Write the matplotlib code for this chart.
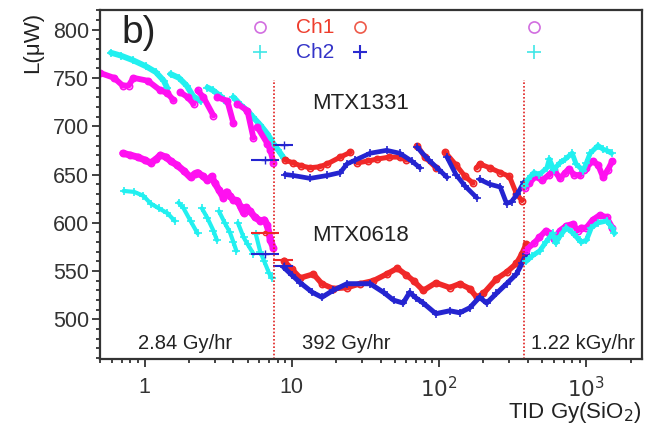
import numpy as np
import matplotlib
matplotlib.use("Agg")
import matplotlib.pyplot as plt
from matplotlib.ticker import FixedLocator, FixedFormatter, MultipleLocator, LogLocator, NullFormatter

nan = np.nan

# ---- data: dose (Gy) vs light power (uW) ----
# MTX1331, 2.84 Gy/hr
m1331_ch1_a_x = [0.50, 0.62, 0.71, 0.78, 0.84, 1.05, 1.28, 1.43, 1.57, nan, 1.75, 1.96, 2.15, nan,
                 2.29, 2.51, 2.93, nan, 3.12, 3.65, 4.01, nan, 4.27, 4.99, 5.48, nan, 5.83, 6.82, 7.15, 7.5]
m1331_ch1_a_y = [755, 750, 742, 742, 750, 747, 737, 734, 727, nan, 735, 730, 723, nan,
                 737, 730, 711, nan, 730, 726, 703, nan, 723, 716, 688, nan, 699, 682, 675, 662]
m1331_ch2_a_x = [0.59, 0.69, 0.84, 1.02, 1.19, 1.35, 1.43, nan, 1.50, 1.71, 1.93, 2.14, 2.40, nan,
                 2.67, 2.92, 3.28, 3.65, nan, 4.01, 4.48, 4.99, 5.48, 6.12, 6.82, 7.49, 8.1, 8.8]
m1331_ch2_a_y = [776, 773, 768, 762, 756, 747, 739, nan, 754, 750, 742, 731, 726, nan,
                 740, 737, 731, 724, nan, 730, 722, 716, 709, 701, 692, 682, 675, 667]

# MTX0618, 2.84 Gy/hr
m0618_ch1_a_x = [0.71, 0.8, 0.9, 1.0, 1.1, 1.2, 1.28, 1.4, 1.5, 1.65, 1.84, 2.05, 2.2, 2.29, 2.5, 2.67,
                 2.85, 3.0, 3.2, 3.43, 3.6, 3.8, 4.0, 4.27, 4.5, 4.7, 4.9, 5.2, 5.6, 6.1, 6.5, 6.8, 7.15, 7.5]
m0618_ch1_a_y = [672, 670, 668, 665, 662, 666, 670, 668, 664, 660, 654, 647, 651, 652, 648, 644,
                 648, 641, 634, 626, 632, 628, 624, 623, 616, 610, 616, 612, 606, 602, 603, 598, 582, 574]
m0618_ch2_a_x = [0.72, 0.85, 0.98, 1.1, 1.25, 1.43, 1.6, nan, 1.7, 1.84, 2.05, 2.29, nan,
                 2.45, 2.67, 2.93, 3.1, nan, 3.2, 3.5, 3.8, 4.01, 4.2, nan, 4.3, 4.7, 5.0, 5.48, nan,
                 5.7, 6.1, 6.5, 7.0, 7.3]
m0618_ch2_a_y = [633, 632, 628, 620, 615, 610, 602, nan, 621, 615, 602, 589, nan,
                 615, 605, 592, 582, nan, 612, 600, 590, 580, 571, nan, 600, 585, 578, 568, nan,
                 588, 570, 560, 548, 543]

# MTX1331, 392 Gy/hr
m1331_ch1_b_x = [9.0, 10.2, 11.5, 13.3, 15.5, 17.4, 21.3, 25, nan, 27.8, 33, 38, 46, 54, 60, nan,
                 71, 80, 95, nan, 110, 130, 150, 170, nan, 180, 188, 220, 260, 300, 335, 365]
m1331_ch1_b_y = [665, 662, 659, 657, 658, 661, 668, 673, nan, 662, 664, 666, 668, 668, 665, nan,
                 680, 668, 657, nan, 673, 660, 648, 641, nan, 657, 661, 657, 652, 648, 630, 623]
m1331_ch2_b_x = [9.0, 10.2, 13.3, 17.4, 21.3, 23.7, 27, 34, 44, 54, 65, 74, nan, 71, 85, 100, 113, nan,
                 113, 130, 150, 180, nan, 188, 220, 260, 287, 310, 340, 376]
m1331_ch2_b_y = [650, 649, 646, 649, 652, 661, 665, 672, 675, 672, 664, 657, nan, 678, 665, 655, 647, nan,
                 668, 650, 638, 626, nan, 645, 640, 637, 620, 622, 630, 642]

# MTX0618, 392 Gy/hr
m0618_ch1_b_x = [8.8, 10, 11.4, 14, 16, 19, 23.7, 29, 35.7, 44, 52, 60, 67, 78, 95, 118, 138, 161,
                 180, 200, 245, 287, 335, 365, 390]
m0618_ch1_b_y = [561, 552, 543, 547, 537, 532, 533, 537, 540, 547, 553, 546, 540, 530, 538, 533, 537, 532,
                 523, 527, 542, 549, 558, 568, 578]
m0618_ch2_b_x = [8.8, 10, 11.4, 13.8, 16, 19, 23.7, 34, 42, 49, 57, 63, 70, 78, 95, 118, 138, 161,
                 188, 210, 245, 287, 335, 365, 390]
m0618_ch2_b_y = [554, 546, 538, 528, 523, 530, 537, 537, 528, 520, 517, 528, 522, 517, 506, 509, 507, 512,
                 523, 517, 527, 537, 547, 558, 568]

# 1.22 kGy/hr
m1331_ch1_c_x = [380, 410, 450, 500, 560, 600, 660, 720, 760, 820, 900, 960, 1000, 1100, 1200, 1300, 1400, 1500]
m1331_ch1_c_y = [636, 641, 648, 644, 650, 655, 646, 652, 656, 650, 649, 655, 657, 664, 660, 647, 655, 664]
m1331_ch2_c_x = [380, 400, 440, 480, 540, 560, 600, 660, 720, 800, 850, 950, 1000, 1060, 1200, 1300, 1370, 1480]
m1331_ch2_c_y = [638, 645, 652, 650, 657, 666, 655, 662, 666, 672, 661, 654, 662, 672, 680, 676, 675, 672]
m0618_ch1_c_x = [390, 440, 480, 530, 560, 600, 660, 730, 810, 870, 920, 1000, 1100, 1230, 1370, 1500]
m0618_ch1_c_y = [572, 579, 585, 592, 589, 583, 592, 597, 599, 592, 595, 595, 603, 608, 606, 595]
m0618_ch2_c_x = [390, 430, 482, 530, 590, 620, 660, 730, 800, 860, 920, 1000, 1080, 1200, 1370, 1500, 1550]
m0618_ch2_c_y = [560, 566, 571, 580, 589, 579, 586, 595, 590, 585, 580, 582, 595, 600, 602, 595, 589]

# averaged points with dose spread (x error bars) at the rate change
bar_x = [6.6, 8.8]
bar_lo = [1.3, 1.3]
bar_hi = [1.6, 1.4]
bar_1331_ch2 = [665, 681]
bar_0618_ch1 = [589, 562]
bar_0618_ch2 = [568, 555]

rate_changes = [7.6, 377]
rate_labels = ["2.84 Gy/hr", "392 Gy/hr", "1.22 kGy/hr"]

MAG = "#ff10f0"
CYAN = "#22f0f0"
RED = "#f02828"
BLUE = "#2424d0"

plt.rcParams["font.family"] = ["Liberation Sans", "DejaVu Sans"]

fig = plt.figure(figsize=(6.51, 4.24), dpi=100)
ax = fig.add_axes([0.154, 0.153, 0.832, 0.823])


def ch1(x, y, c, lw=4.0):
    ax.plot(x, y, color=c, lw=lw, marker="o", ms=4.5, mfc="none", mew=1.2, solid_capstyle="round")


def ch2(x, y, c, lw=3.4):
    ax.plot(x, y, color=c, lw=lw, marker="+", ms=5.5, mew=1.2, solid_capstyle="round")


# first period
ch2(m0618_ch2_a_x, m0618_ch2_a_y, CYAN, lw=3.0)
ch1(m0618_ch1_a_x, m0618_ch1_a_y, MAG, lw=5.0)
ch2(m1331_ch2_a_x, m1331_ch2_a_y, CYAN, lw=4.2)
ch1(m1331_ch1_a_x, m1331_ch1_a_y, MAG, lw=4.2)
# second period
ch1(m1331_ch1_b_x, m1331_ch1_b_y, RED, lw=3.6)
ch2(m1331_ch2_b_x, m1331_ch2_b_y, BLUE, lw=3.4)
ch1(m0618_ch1_b_x, m0618_ch1_b_y, RED, lw=4.0)
ch2(m0618_ch2_b_x, m0618_ch2_b_y, BLUE, lw=3.6)
# third period
ch1(m1331_ch1_c_x, m1331_ch1_c_y, MAG, lw=4.2)
ch2(m1331_ch2_c_x, m1331_ch2_c_y, CYAN, lw=3.6)
ch1(m0618_ch1_c_x, m0618_ch1_c_y, MAG, lw=4.2)
ch2(m0618_ch2_c_x, m0618_ch2_c_y, CYAN, lw=3.6)

xerr = [bar_lo, bar_hi]
ax.errorbar(bar_x, bar_0618_ch1, xerr=xerr, fmt="o", ms=3, mfc="none", color=RED, lw=1.5, capsize=0)
ax.errorbar(bar_x, bar_0618_ch2, xerr=xerr, fmt="+", ms=6, color=BLUE, lw=1.5, capsize=0)
ax.errorbar(bar_x, bar_1331_ch2, xerr=xerr, fmt="+", ms=6, color=BLUE, lw=1.5, capsize=0)

for xv in rate_changes:
    ax.axvline(xv, ymin=0, ymax=0.80, color="#e02020", ls=(0, (1, 1.2)), lw=1.2)

ax.set_xscale("log")
ax.set_xlim(0.5, 2380)
ax.set_ylim(459, 820)

ax.xaxis.set_major_locator(FixedLocator([1, 10, 100, 1000]))
ax.xaxis.set_major_formatter(FixedFormatter(["1", "10", "$10^2$", "$10^3$"]))
ax.xaxis.set_minor_locator(LogLocator(base=10, subs=np.arange(2, 10)))
ax.xaxis.set_minor_formatter(NullFormatter())
ax.yaxis.set_major_locator(MultipleLocator(50))
ax.yaxis.set_minor_locator(MultipleLocator(10))
ax.set_yticks([500, 550, 600, 650, 700, 750, 800])

ax.tick_params(which="both", direction="out", colors="#333333", labelcolor="#333333",
               top=False, right=False, labelsize=15.5, width=1.3)
ax.tick_params(which="major", length=6, pad=2)
ax.tick_params(which="minor", length=3)
ax.tick_params(axis="x", which="major", pad=7)
for s in ax.spines.values():
    s.set_color("#333333")
    s.set_linewidth(1.6)

# axis titles sit in the corners like the original
fig.text(0.985, 0.027, "TID Gy(SiO$_2$)", fontsize=16, color="#222222", ha="right", va="center")
fig.text(0.050, 0.900, "L(\u03bcW)", fontsize=16, color="#222222", ha="center", va="center", rotation=90)

# panel tag, column headers and sample names
ax.text(0.04, 0.935, "b)", transform=ax.transAxes, fontsize=28, color="#222222", va="center")
ax.plot([0.295], [0.951], transform=ax.transAxes, marker="o", ms=8, mfc="none", mec="#d26ee0", mew=1.2)
ax.plot([0.295], [0.880], transform=ax.transAxes, marker="+", ms=10, mec="#40e6e6", mew=1.2)
ax.text(0.397, 0.951, "Ch1", transform=ax.transAxes, fontsize=15, color="#ee3d2d", ha="center", va="center")
ax.text(0.397, 0.880, "Ch2", transform=ax.transAxes, fontsize=15, color="#3434c8", ha="center", va="center")
ax.plot([0.48], [0.951], transform=ax.transAxes, marker="o", ms=8, mfc="none", mec="#ee5a4a", mew=1.2)
ax.plot([0.48], [0.880], transform=ax.transAxes, marker="+", ms=10, mec="#2a2ad0", mew=1.5)
ax.plot([0.80], [0.951], transform=ax.transAxes, marker="o", ms=8, mfc="none", mec="#d26ee0", mew=1.2)
ax.plot([0.80], [0.880], transform=ax.transAxes, marker="+", ms=10, mec="#40e6e6", mew=1.2)

ax.text(0.48, 0.733, "MTX1331", transform=ax.transAxes, fontsize=16, color="#222222", ha="center", va="center")
ax.text(0.48, 0.355, "MTX0618", transform=ax.transAxes, fontsize=16, color="#222222", ha="center", va="center")

for xa, lab in zip([0.07, 0.372, 0.795], rate_labels):
    ax.text(xa, 0.045, lab, transform=ax.transAxes, fontsize=14.5, color="#222222", ha="left", va="center")

fig.savefig("out.png", dpi=100)
